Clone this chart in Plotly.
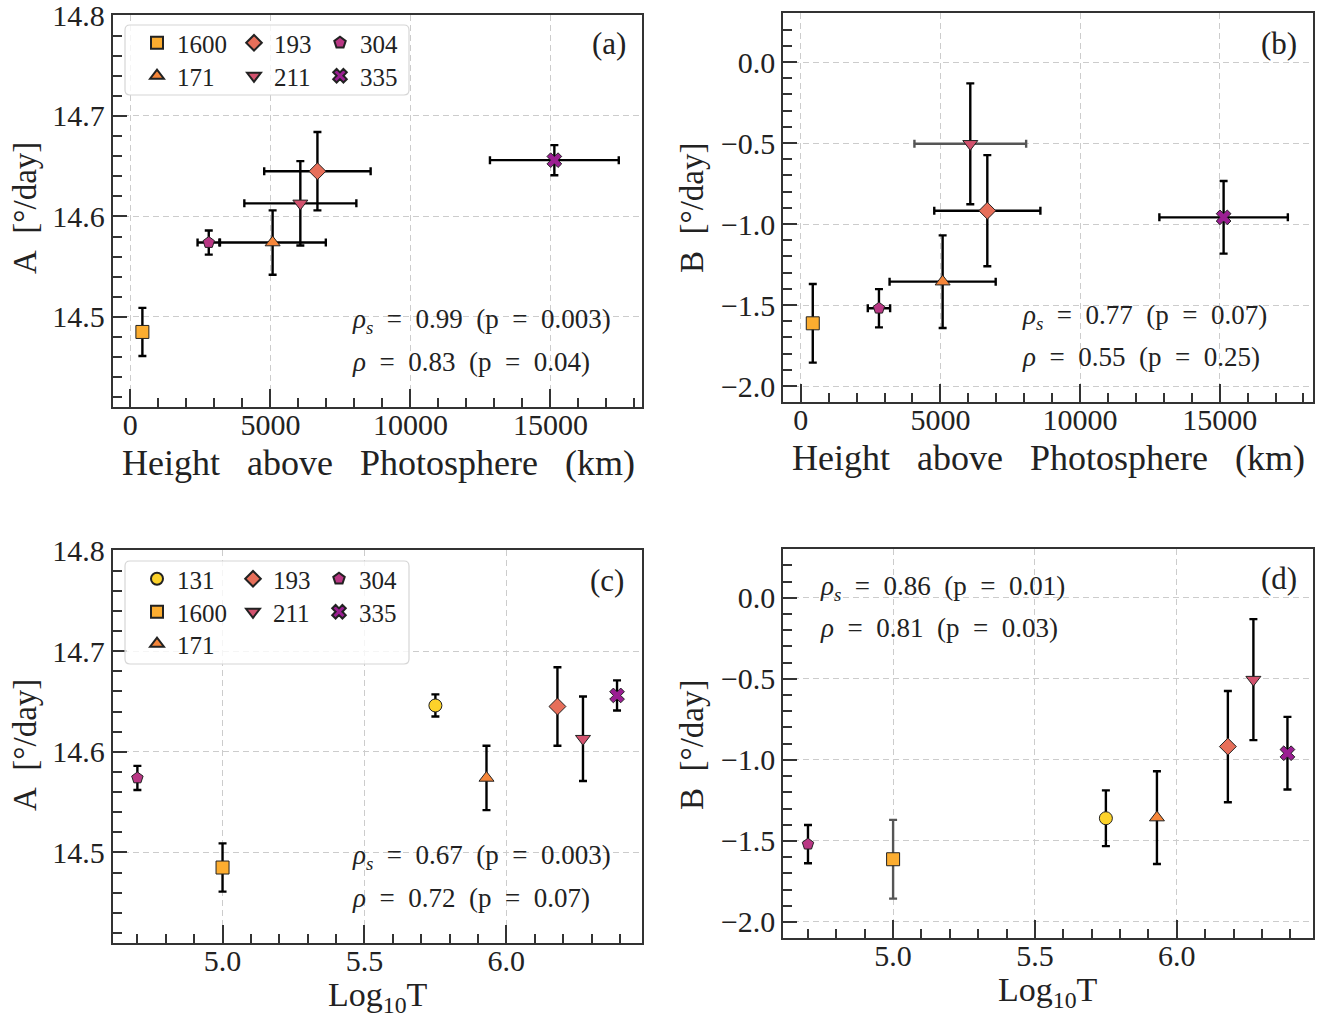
import plotly.graph_objects as go

W, H = 1330, 1024
FONT = "Liberation Serif"

# ---------------- data ----------------
wavelengths = ["131", "1600", "171", "193", "211", "304", "335"]
height_km = [None, 430, 5080, 6680, 6070, 2800, 15140]
height_err = [None, 0, 1900, 1900, 2000, 400, 2300]
log_T = [5.75, 5.00, 5.93, 6.18, 6.27, 4.70, 6.39]
A_vals = [14.646, 14.485, 14.574, 14.645, 14.613, 14.574, 14.656]
A_errs = [0.011, 0.024, 0.032, 0.039, 0.042, 0.012, 0.015]
B_vals = [-1.36, -1.613, -1.356, -0.918, -0.505, -1.52, -0.959]
B_errs = [0.172, 0.243, 0.286, 0.343, 0.373, 0.118, 0.224]

rho_s = ["0.99", "0.77", "0.67", "0.86"]
p_s = ["0.003", "0.07", "0.003", "0.01"]
rho = ["0.83", "0.55", "0.72", "0.81"]
p_p = ["0.04", "0.25", "0.07", "0.03"]
panel_labels = ["(a)", "(b)", "(c)", "(d)"]

# ---------------- styles ----------------
colors = {"131": "#FCD22A", "1600": "#FCAD30", "171": "#F6863A", "193": "#E76F5A",
          "211": "#D2526E", "304": "#B93784", "335": "#9B1E92"}
symbols = {"131": "circle", "1600": "square", "171": "triangle-up", "193": "diamond",
           "211": "triangle-down", "304": "pentagon", "335": "x"}
sizes = {"131": 13, "1600": 13, "171": 13, "193": 13, "211": 13, "304": 12, "335": 13}


def px(x):
    return x / W


def py(y):
    return 1 - y / H


# axes boxes in pixels (left, right, top, bottom)
boxes = {
    "a": (112.7, 642.3, 15.0, 407.3),
    "b": (783.3, 1312.7, 13.4, 402.2),
    "c": (112.7, 642.3, 550.0, 943.0),
    "d": (783.3, 1312.7, 549.1, 938.2),
}

fig = go.Figure()

leg_a_cols = [157, 254, 340]
leg_a_rows = [43, 76]
leg_c_cols = [157, 253, 339]
leg_c_rows = [579, 612, 644]
leg_a_cells = {"1600": (0, 0), "171": (0, 1), "193": (1, 0), "211": (1, 1), "304": (2, 0), "335": (2, 1)}
leg_c_cells = {"131": (0, 0), "1600": (0, 1), "171": (0, 2), "193": (1, 0), "211": (1, 1),
               "304": (2, 0), "335": (2, 1)}

legend_layouts = {}
leg_counter = [0]


def new_legend(mx, my):
    leg_counter[0] += 1
    name = "legend" if leg_counter[0] == 1 else "legend%d" % leg_counter[0]
    legend_layouts[name] = dict(
        x=px(mx - 20), y=py(my), xanchor="left", yanchor="middle",
        bgcolor="rgba(0,0,0,0)", borderwidth=0, itemwidth=30, itemsizing="constant",
        font=dict(family=FONT, size=25, color="#222"),
    )
    return name


panels = [
    ("a", "x", "y", "height", "A"),
    ("b", "x2", "y2", "height", "B"),
    ("c", "x3", "y3", "logT", "A"),
    ("d", "x4", "y4", "logT", "B"),
]

for pname, xa, ya, xkind, ykind in panels:
    for i, wl in enumerate(wavelengths):
        if xkind == "height":
            if height_km[i] is None:
                continue
            xv = height_km[i]
            xe = height_err[i]
        else:
            xv = log_T[i]
            xe = None
        yv = A_vals[i] if ykind == "A" else B_vals[i]
        ye = A_errs[i] if ykind == "A" else B_errs[i]
        ecol_y = "#000"
        ecol_x = "#000"
        if pname == "b" and wl == "211":
            ecol_x = "#555"
        if pname == "d" and wl == "1600":
            ecol_y = "#555"
        tr = dict(
            x=[xv], y=[yv], mode="markers", name=wl, xaxis=xa, yaxis=ya,
            marker=dict(symbol=symbols[wl], size=sizes[wl], color=colors[wl],
                        line=dict(color="#222", width=1)),
            error_y=dict(type="data", array=[ye], visible=True, color=ecol_y,
                         thickness=2.4, width=4),
            showlegend=False,
        )
        if xe:
            tr["error_x"] = dict(type="data", array=[xe], visible=True, color=ecol_x,
                                 thickness=2.4, width=4)
        if pname == "a" and wl in leg_a_cells:
            c, r = leg_a_cells[wl]
            tr["showlegend"] = True
            tr["legend"] = new_legend(leg_a_cols[c], leg_a_rows[r])
        if pname == "c" and wl in leg_c_cells:
            c, r = leg_c_cells[wl]
            tr["showlegend"] = True
            tr["legend"] = new_legend(leg_c_cols[c], leg_c_rows[r])
        fig.add_trace(go.Scatter(**tr))


def axis_common(major_len, minor_dtick):
    return dict(
        showline=True, linecolor="#333", linewidth=2, mirror=True,
        ticks="inside", ticklen=major_len, tickwidth=2, tickcolor="#333",
        showgrid=True, gridcolor="#cccccc", griddash="6px,4px", gridwidth=1,
        zeroline=False, automargin=False, ticklabeloverflow="allow",
        tickfont=dict(family=FONT, size=30, color="#222"),
        minor=dict(ticks="inside", ticklen=9, tickwidth=1.5, tickcolor="#333",
                   dtick=minor_dtick, showgrid=False),
    )


NB = "\u00a0"
ytitle_A = "A" + NB * 2 + "[°/day]"
ytitle_B = "B" + NB * 2 + "[°/day]"
xtitle_h = ("Height" + NB * 3 + "above" + NB * 3 + "Photosphere" + NB * 3 + "(km)")
xtitle_t = "Log<sub>10</sub>T"

layout_axes = {}
specs = {
    "a": ("xaxis", "yaxis", "x", "y", [-630, 18280], [14.41, 14.8005], 5000, 1000, 0.1, 0.02, "d"),
    "b": ("xaxis2", "yaxis2", "x2", "y2", [-625, 18330], [-2.1, 0.3], 5000, 1000, 0.5, 0.1, "d"),
    "c": ("xaxis3", "yaxis3", "x3", "y3", [4.613, 6.479], [14.41, 14.8005], 0.5, 0.1, 0.1, 0.02, ".1f"),
    "d": ("xaxis4", "yaxis4", "x4", "y4", [4.613, 6.479], [-2.1, 0.3], 0.5, 0.1, 0.5, 0.1, ".1f"),
}
for pname, (xk, yk, xid, yid, xr, yr, xdt, xmdt, ydt, ymdt, xfmt) in specs.items():
    l, r, t, b = boxes[pname]
    xax = axis_common(18, xmdt)
    xax.update(domain=[px(l), px(r)], range=xr, anchor=yid, dtick=xdt, tick0=0,
               tickformat=xfmt, ticklabelstandoff=-10)
    yax = axis_common(14, ymdt)
    yax.update(domain=[py(b), py(t)], range=yr, anchor=xid, dtick=ydt, tick0=0,
               tickformat=".1f", ticklabelstandoff=0)
    layout_axes[xk] = xax
    layout_axes[yk] = yax

annots = []
# axis titles
xt_pos = {"a": (378, 463, xtitle_h, 36), "b": (1048, 458, xtitle_h, 36),
          "c": (378, 997, xtitle_t, 34), "d": (1048, 992, xtitle_t, 34)}
yt_pos = {"a": (25, 208, ytitle_A), "b": (692, 208, ytitle_B),
          "c": (25, 745, ytitle_A), "d": (692, 745, ytitle_B)}
for pname in ["a", "b", "c", "d"]:
    xx, yy, txt, fs = xt_pos[pname]
    annots.append(dict(text=txt, x=px(xx), y=py(yy), xref="paper", yref="paper",
                       xanchor="center", yanchor="middle", showarrow=False,
                       font=dict(family=FONT, size=fs, color="#222")))
    xx, yy, txt = yt_pos[pname]
    annots.append(dict(text=txt, x=px(xx), y=py(yy), xref="paper", yref="paper",
                       xanchor="center", yanchor="middle", showarrow=False, textangle=-90,
                       font=dict(family=FONT, size=33, color="#222")))

# stats text and panel labels
stat_pos = {"a": (350, 321, 362), "b": (1020, 317, 357), "c": (350, 857, 898), "d": (818, 588, 628)}
for k, pname in enumerate(["a", "b", "c", "d"]):
    x0, y1, y2 = stat_pos[pname]
    t1 = ("<i>ρ<sub>s</sub></i>" + NB * 2 + "=" + NB * 2 + rho_s[k] + NB * 2 + "(p" + NB * 2 + "="
          + NB * 2 + p_s[k] + ")")
    t2 = ("<i>ρ</i>" + NB * 2 + "=" + NB * 2 + rho[k] + NB * 2 + "(p" + NB * 2 + "=" + NB * 2
          + p_p[k] + ")")
    for txt, yy in ((t1, y1), (t2, y2)):
        annots.append(dict(text=txt, x=px(x0), y=py(yy), xref="paper", yref="paper",
                           xanchor="left", yanchor="middle", showarrow=False,
                           font=dict(family=FONT, size=27, color="#222")))
lab_pos = {"a": (628, 43), "b": (1299, 43), "c": (626, 580), "d": (1299, 578)}
for k, pname in enumerate(["a", "b", "c", "d"]):
    xx, yy = lab_pos[pname]
    annots.append(dict(text=panel_labels[k], x=px(xx), y=py(yy), xref="paper", yref="paper",
                       xanchor="right", yanchor="middle", showarrow=False,
                       font=dict(family=FONT, size=31, color="#222")))


def rounded(l, r, t, b, rad=5):
    L, R, T, B = px(l), px(r), py(t), py(b)
    dx, dy = rad / W, rad / H
    return (f"M {L+dx},{T} L {R-dx},{T} Q {R},{T} {R},{T-dy} L {R},{B+dy} Q {R},{B} {R-dx},{B} "
            f"L {L+dx},{B} Q {L},{B} {L},{B+dy} L {L},{T-dy} Q {L},{T} {L+dx},{T} Z")


shapes = []
for (l, r, t, b) in [(125, 409, 25, 95), (125, 409, 561, 664)]:
    shapes.append(dict(type="path", path=rounded(l, r, t, b), xref="paper", yref="paper",
                       fillcolor="rgba(255,255,255,0.8)", line=dict(color="#d6d6d6", width=1.2),
                       layer="above"))

fig.update_layout(
    width=W, height=H, margin=dict(l=0, r=0, t=0, b=0),
    paper_bgcolor="white", plot_bgcolor="white",
    font=dict(family=FONT, color="#222"),
    annotations=annots, shapes=shapes,
    **layout_axes, **legend_layouts,
)

fig.write_html("out.html")
